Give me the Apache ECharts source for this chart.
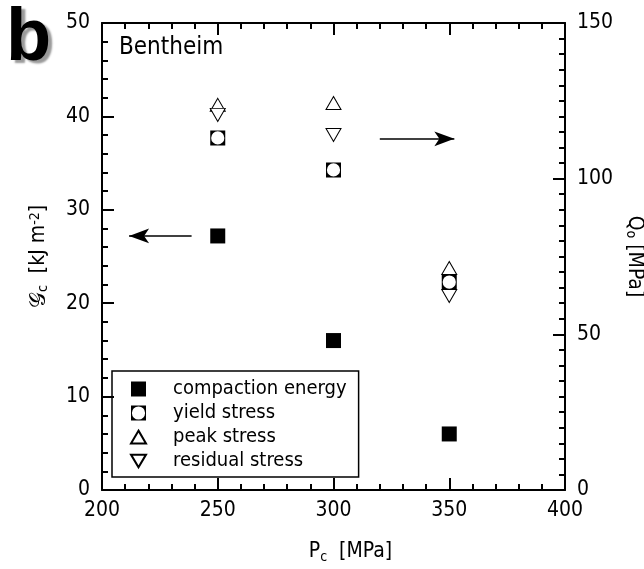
<!DOCTYPE html>
<html><head><meta charset="utf-8">
<script src="https://cdn.jsdelivr.net/npm/echarts@6/dist/echarts.min.js"></script>
<style>html,body{margin:0;padding:0;background:#fff}#c{width:644px;height:569px}</style>
</head><body><div id="c"></div>
<script>
const pressures = [250, 300, 350];
const compactionEnergy = [27.2, 16.0, 6.0];      // kJ m-2 (left axis)
const yieldStress = [113.1, 102.8, 66.8];       // MPa (right axis)
const peakStress = [123.7, 124.3, 71.3];        // MPa (right axis)
const residualStress = [120.5, 114.0, 62.3];    // MPa (right axis)
const xTicks = [200, 250, 300, 350, 400];
const leftTicks = [0, 10, 20, 30, 40, 50];
const rightTicks = [0, 50, 100, 150];
// annotation arrows (data coordinates)
const leftArrow = [[238.7, 27.2], [211.7, 27.2]];
const rightArrow = [[320, 37.6], [352.2, 37.6]];

const FONT = '"DejaVu Sans Condensed", "DejaVu Sans"';
const pairs = v => pressures.map((p, i) => [p, v[i]]);
const chart = echarts.init(document.getElementById('c'));
const tickStyle = {inside: true, length: 12, lineStyle: {color: '#000', width: 2}};
const minorStyle = {show: true, length: 6, lineStyle: {color: '#000', width: 2}};
const axisLine = {show: true, onZero: false, lineStyle: {color: '#000', width: 2}};
const lblStyle = {color: '#000', fontFamily: FONT, fontSize: 21};

chart.setOption({
  animation: false,
  backgroundColor: '#fff',
  textStyle: {fontFamily: FONT},
  title: {
    text: 'b', left: 1, top: -2,
    textStyle: {fontFamily: 'Liberation Sans', fontWeight: 900, fontSize: 74, color: '#000',
      textShadowColor: '#9a9a9a', textShadowOffsetX: 4, textShadowOffsetY: 3, textShadowBlur: 2}
  },
  graphic: [{type: 'text', left: 119, top: 36, style: {text: 'Bentheim', fontFamily: FONT, fontSize: 24, fill: '#000'}}],
  grid: {left: 102, right: 79, top: 23, bottom: 79, outerBoundsMode: 'none', containLabel: false},
  legend: {
    orient: 'vertical', left: 112, top: 371,
    borderColor: '#000', borderWidth: 1.5, padding: [8, 12, 6, 18],
    itemWidth: 15, itemHeight: 15, itemGap: 4,
    textStyle: {fontFamily: FONT, fontSize: 20, color: '#000', lineHeight: 20, padding: [0, 0, 0, 22]},
    data: ['compaction energy', 'yield stress', 'peak stress', 'residual stress']
  },
  xAxis: [{
    type: 'value', min: xTicks[0], max: xTicks[xTicks.length - 1], interval: 50,
    axisLine, axisTick: tickStyle, minorTick: Object.assign({splitNumber: 5}, minorStyle),
    splitLine: {show: false}, axisLabel: Object.assign({margin: 10}, lblStyle),
    name: '{v|P}{s|c}  [MPa]', nameLocation: 'middle', nameGap: 50,
    nameTextStyle: {fontFamily: FONT, fontSize: 21, color: '#000', padding: [0, 0, 0, 34],
      rich: {v: {fontFamily: FONT, fontSize: 21, color: '#000'}, s: {fontFamily: FONT, fontSize: 14, color: '#000', padding: [10, 0, 0, 0]}}}
  }, {
    type: 'value', position: 'top', min: 200, max: 400, interval: 50,
    axisLine, axisTick: tickStyle, minorTick: Object.assign({splitNumber: 5}, minorStyle),
    splitLine: {show: false}, axisLabel: {show: false}
  }],
  yAxis: [{
    type: 'value', min: leftTicks[0], max: leftTicks[leftTicks.length - 1], interval: 10,
    axisLine, axisTick: tickStyle, minorTick: Object.assign({splitNumber: 5}, minorStyle),
    splitLine: {show: false}, axisLabel: Object.assign({margin: 12}, lblStyle),
    name: '{g|𝒢}{s|c}  [kJ m{p|-2}]', nameLocation: 'middle', nameGap: 52, nameRotate: 90,
    nameTextStyle: {rich: {
      g: {fontFamily: FONT, fontSize: 22, color: '#000'},
      s: {fontFamily: FONT, fontSize: 14, color: '#000', padding: [8, 0, 0, 0]},
      p: {fontFamily: FONT, fontSize: 14, color: '#000', padding: [0, 0, 8, 0]}
    }, fontFamily: FONT, fontSize: 21, color: '#000'}
  }, {
    type: 'value', position: 'right', min: rightTicks[0], max: rightTicks[rightTicks.length - 1], interval: 50,
    axisLine, axisTick: tickStyle, minorTick: Object.assign({splitNumber: 10}, minorStyle),
    splitLine: {show: false}, axisLabel: Object.assign({margin: 12}, lblStyle),
    name: '{v|Q}{s|o} [MPa]', nameLocation: 'middle', nameGap: 55, nameRotate: -90,
    nameTextStyle: {rich: {
      v: {fontFamily: FONT, fontSize: 21, color: '#000'},
      s: {fontFamily: FONT, fontSize: 14, color: '#000', padding: [8, 0, 0, 0]}
    }, fontFamily: FONT, fontSize: 21, color: '#000'}
  }],
  series: [{
    name: 'compaction energy', type: 'scatter', xAxisIndex: 0, yAxisIndex: 0,
    data: pairs(compactionEnergy), symbol: 'rect', symbolSize: 15,
    itemStyle: {color: '#000', opacity: 1},
    markLine: {
      silent: true, symbol: ['none', 'arrow'], symbolSize: [11, 20],
      lineStyle: {color: '#000', width: 1.5, type: 'solid', opacity: 1}, label: {show: false},
      data: [
        [{coord: leftArrow[0]}, {coord: leftArrow[1]}],
        [{coord: rightArrow[0]}, {coord: rightArrow[1]}]
      ]
    }
  }, {
    name: 'yield stress', type: 'scatter', xAxisIndex: 0, yAxisIndex: 1,
    data: pairs(yieldStress),
    symbol: 'path://M0,0 L10,0 L10,10 L0,10 Z M5,0.6 A4.4,4.4 0 0 0 0.6,5 A4.4,4.4 0 0 0 5,9.4 A4.4,4.4 0 0 0 9.4,5 A4.4,4.4 0 0 0 5,0.6 Z',
    symbolSize: 15, itemStyle: {color: '#000', opacity: 1}
  }, {
    name: 'peak stress', type: 'scatter', xAxisIndex: 0, yAxisIndex: 1,
    data: pairs(peakStress), symbol: 'path://M5,0 L10,8.5 L0,8.5 Z', symbolSize: [15, 13],
    itemStyle: {color: '#fff', borderColor: '#000', borderWidth: 1, opacity: 1}
  }, {
    name: 'residual stress', type: 'scatter', xAxisIndex: 0, yAxisIndex: 1,
    data: pairs(residualStress), symbol: 'path://M0,0 L10,0 L5,8.5 Z', symbolSize: [15, 13],
    itemStyle: {color: '#fff', borderColor: '#000', borderWidth: 1, opacity: 1}
  }]
});
</script></body></html>
